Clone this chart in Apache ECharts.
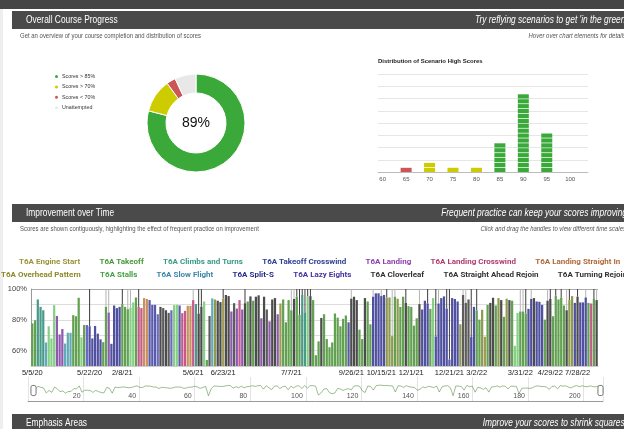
<!DOCTYPE html>
<html>
<head>
<meta charset="utf-8">
<script src="https://cdn.jsdelivr.net/npm/echarts@6/dist/echarts.min.js"></script>
<style>
  html, body { margin: 0; padding: 0; background: #fff; overflow: hidden; }
  #dash { width: 624px; height: 429px; }
</style>
</head>
<body>
<div id="dash"></div>
<script>
// section headers
const sectionTitles = ['Overall Course Progress', 'Improvement over Time', 'Emphasis Areas'];
const sectionTaglines = ["Try reflying scenarios to get 'in the green'", 'Frequent practice can keep your scores improving', 'Improve your scores to shrink squares!'];
const sectionNotes = ['Get an overview of your course completion and distribution of scores', 'Scores are shown contiguously, highlighting the effect of frequent practice on improvement'];
const sectionHints = ['Hover over chart elements for details', 'Click and drag the handles to view different time scales'];

// course progress donut
const progressNames = ['Scores > 85%', 'Scores > 70%', 'Scores < 70%', 'Unattempted'];
const progressShare = [79, 11, 3, 7];
const overallScore = 89;

// distribution of high scores
const histTitle = 'Distribution of Scenario High Scores';
const histScores = [60, 65, 70, 75, 80, 85, 90, 95, 100];
const histCounts = [0, 1, 2, 1, 1, 6, 16, 8, 0];

// improvement over time
const scenarioNames = [
    'T6A Engine Start', 'T6A Takeoff', 'T6A Climbs and Turns', 'T6A Takeoff Crosswind',
    'T6A Landing', 'T6A Landing Crosswind', 'T6A Landing Straight In',
    'T6A Overhead Pattern', 'T6A Stalls', 'T6A Slow Flight', 'T6A Split-S',
    'T6A Lazy Eights', 'T6A Cloverleaf', 'T6A Straight Ahead Rejoin', 'T6A Turning Rejoin'
];
const legendRow1 = 7; // first 7 names on the upper legend row

const scores = [
    77.7, 79.7, 93.2, 88.4, 86.2, 65.3, 75.8, 67.9, 89.5, 82.5,
    70.5, 74, 64.6, 71.6, 71.6, 83, 82.3, 94.3, 68.6, 76.6,
    76.6, 75.8, 67.9, 76, 71, 67.3, 65.5, 88.4, 84.7, 64.4,
    89.3, 87.6, 88.4, 90.2, 88.4, 86.9, 88, 91.3, 94.5, 88.4,
    87.6, 94.1, 93.5, 92.8, 89.7, 89.7, 83.6, 88.4, 87.6, 86.2,
    84.5, 86.2, 89.5, 89.7, 89.3, 84.3, 85.8, 89.1, 89.1, 92.8,
    90.2, 84.1, 88.6, 91.9, 53.9, 82.5, 93.9, 93.2, 92.4, 91.5,
    93.7, 96.1, 95.4, 85.4, 90.8, 87.3, 92.8, 86.7, 90.8, 91.9,
    95.2, 92.4, 95, 95.9, 81, 95, 86.7, 79, 93.2, 94.1,
    83.6, 90.6, 93.2, 78.4, 92.8, 86.2, 93.5, 95, 83.2, 96.1,
    84.9, 95.4, 95.4, 92.8, 57, 66, 81.2, 83.6, 67.5, 62.2,
    65.3, 84.1, 81.4, 75.8, 80.6, 82.8, 78.4, 93.7, 95, 92.8,
    73.6, 67.5, 94.1, 91.9, 77.1, 95, 97.2, 97.2, 95.4, 96.1,
    94.5, 94.5, 69.4, 95, 93.7, 88.4, 95, 91, 88.9, 88.4,
    76.2, 81, 90.2, 86.7, 92.4, 90.6, 87.1, 94.1, 69.2, 90.6,
    94.1, 95.2, 87.3, 54.2, 94.1, 93.5, 91.9, 77.1, 96.1, 91,
    93.2, 68.8, 88.4, 86.2, 80.1, 86.5, 69, 89.7, 91, 94.3,
    89.3, 94.1, 92.8, 81.9, 93.7, 92.8, 92.4, 63.1, 84.5, 85.4,
    85.4, 84.1, 87.1, 93.5, 94.1, 91.9, 91.7, 89.7, 80.1, 92.4,
    93.5, 82.3, 95.6, 93.2, 94.5, 89.3, 86.2, 92.8, 95.4, 91,
    95, 91.3, 91.3, 94.5, 91, 90.6, 93.5, 92.8
];
// index into scenarioNames for every attempt
const scenarioOf = [
    1, 1, 2, 2, 2, 9, 8, 8, 8, 4,
    4, 4, 9, 9, 9, 1, 1, 1, 8, 1,
    11, 10, 10, 10, 10, 10, 1, 1, 4, 10,
    10, 10, 10, 1, 1, 1, 8, 8, 1, 5,
    5, 6, 6, 3, 3, 3, 11, 12, 13, 12,
    13, 11, 8, 8, 3, 5, 5, 6, 6, 5,
    2, 12, 12, 8, 1, 13, 9, 7, 12, 12,
    0, 12, 12, 4, 13, 4, 5, 4, 12, 1,
    12, 1, 12, 12, 4, 12, 13, 4, 12, 12,
    4, 0, 1, 1, 1, 1, 12, 1, 1, 2,
    2, 8, 12, 1, 1, 1, 12, 1, 1, 1,
    1, 1, 1, 1, 1, 1, 3, 12, 12, 12,
    1, 1, 12, 1, 1, 10, 10, 10, 10, 10,
    7, 7, 7, 1, 7, 1, 1, 12, 1, 1,
    1, 1, 12, 10, 10, 10, 1, 8, 10, 10,
    10, 10, 10, 3, 10, 10, 10, 7, 13, 13,
    13, 10, 10, 1, 1, 7, 0, 1, 12, 12,
    1, 7, 12, 1, 7, 12, 1, 8, 8, 1,
    1, 1, 10, 10, 12, 10, 10, 10, 1, 12,
    12, 1, 1, 1, 1, 1, 12, 7, 7, 10,
    12, 10, 10, 10, 1, 5, 1, 12
];
// attempts that start a new session (dark) or a new day (light)
const sessionStarts = [21, 33, 39, 61, 62, 70, 78, 97, 98, 99, 100, 101, 102, 130, 137, 145, 148, 152, 153, 161, 163, 181, 190, 192, 194, 197, 200, 206];
const dayStarts = [27, 28, 35, 36, 59, 95, 96, 117, 125, 128, 132, 133, 142, 149, 158, 159, 179, 180, 183, 189, 196, 203, 207];
const dateLabels = [
    [0, '5/5/20'], [21, '5/22/20'], [33, '2/8/21'], [59, '5/6/21'], [70, '6/23/21'],
    [95, '7/7/21'], [117, '9/26/21'], [128, '10/15/21'], [139, '12/1/21'], [153, '12/21/21'],
    [163, '3/2/22'], [179, '3/31/22'], [190, '4/29/22'], [200, '7/28/22']
];

// ---- styles ----
const plain = "'Liberation Sans', Arial, sans-serif";
const squeeze = 0.83; // header captions use a condensed face
const textColors = ['#9a9438', '#4a983a', '#3a9a86', '#2e3f92', '#8e3fae', '#b03a6e', '#b06a3a',
    '#8a8a2a', '#44a044', '#3a86aa', '#2a2a8e', '#44349e', '#333', '#333', '#333'];
const barColors = ['#a09c58', '#62a052', '#4a9a8a', '#5a5aaa', '#8e5ab0', '#c45a8a', '#c89060',
    '#8e9a50', '#86d086', '#62aab8', '#5050a0', '#6a6ac4', '#4c4c4c', '#5c5c5c', '#6a6a6a'];
const progressColors = ['#3aa93a', '#cccc00', '#cc5656', '#e8e8e8'];

const chart = echarts.init(document.getElementById('dash'), null, { renderer: 'canvas' });

function caption(text, x, y, font, fill, align) {
    return {
        type: 'text', x: x, y: y, scaleX: squeeze, silent: true,
        style: { text: text, fill: fill, font: font, textAlign: align, align: align,
            textVerticalAlign: 'middle', verticalAlign: 'middle' }
    };
}

// header bars and captions
const headerTops = [11, 204, 414];
const graphics = [
    { type: 'rect', shape: { x: 0, y: 0, width: 624, height: 9 }, style: { fill: '#454545' }, silent: true },
    { type: 'rect', shape: { x: 0, y: 9, width: 3, height: 420 }, style: { fill: '#eeeeee' }, silent: true }
];
headerTops.forEach((top, i) => {
    graphics.push({ type: 'rect', shape: { x: 12, y: top, width: 612, height: 18 }, style: { fill: '#4a4a4a' }, silent: true });
    graphics.push(caption(sectionTitles[i], 26, top + 9, '10.1px ' + plain, '#fff', 'left'));
    graphics.push(caption(sectionTaglines[i], 627, top + 9, 'italic 10.1px ' + plain, '#fff', 'right'));
    if (sectionNotes[i]) {
        graphics.push(caption(sectionNotes[i], 20, top + 25, '7.2px ' + plain, '#555', 'left'));
        graphics.push(caption(sectionHints[i], 626, top + 25, 'italic 7.2px ' + plain, '#555', 'right'));
    }
});
graphics.push({ type: 'text', x: 196, y: 123, silent: true,
    style: { text: overallScore + '%', fill: '#111', font: '14px ' + plain, textAlign: 'center', align: 'center', textVerticalAlign: 'middle', verticalAlign: 'middle' } });
graphics.push({ type: 'text', x: 378, y: 61, silent: true,
    style: { text: histTitle, fill: '#222', font: 'bold 6px ' + plain, textVerticalAlign: 'middle', verticalAlign: 'middle' } });

const categories = scores.map(() => '');
dateLabels.forEach(([i, label]) => { categories[i] = label; });

const scenarioSeries = scenarioNames.map((name, s) => ({
    name: name,
    type: 'bar',
    stack: 'score',
    xAxisIndex: 0,
    yAxisIndex: 0,
    barCategoryGap: '18%',
    itemStyle: { color: barColors[s] },
    data: scores.map((v, i) => (scenarioOf[i] === s ? v : '-')),
    z: 4
}));

const markData = sessionStarts.map(i => [i, scores[i], 2]).concat(dayStarts.map(i => [i, scores[i], 1]));

const legendItems = scenarioNames.map((name, s) => ({ name: name, textStyle: { color: textColors[s] } }));
const rowLegend = {
    icon: 'none', itemWidth: 0, itemHeight: 10, itemGap: 14.3, padding: 0, width: 1200,
    selectedMode: false,
    textStyle: { fontSize: 8, fontWeight: 'bold', fontFamily: 'Roboto' }
};

const option = {
    animation: false,
    backgroundColor: '#fff',
    graphic: graphics,
    legend: [
        {
            data: progressNames, orient: 'vertical', left: 53, top: 73,
            icon: 'circle', itemWidth: 5, itemHeight: 5, itemGap: 3.4, padding: 0,
            selectedMode: false,
            textStyle: { fontSize: 5.3, color: '#333', fontFamily: plain, padding: [0, 0, 0, -2] }
        },
        Object.assign({ data: legendItems.slice(0, legendRow1), left: 14, top: 257 }, rowLegend),
        Object.assign({ data: legendItems.slice(legendRow1), left: -4, top: 270 }, rowLegend)
    ],
    grid: [
        { left: 31, right: 26, top: 289, bottom: 63, outerBoundsMode: 'none' },
        { left: 378, right: 36, top: 74, bottom: 257, outerBoundsMode: 'none' },
        { left: 28, right: 21, top: 377, bottom: 28, outerBoundsMode: 'none' }
    ],
    xAxis: [
        {
            type: 'category', gridIndex: 0, data: categories,
            axisLine: { lineStyle: { color: '#cccccc' } },
            axisTick: { show: false },
            axisLabel: { interval: 0, fontSize: 7.5, color: '#222', margin: 3, fontFamily: plain }
        },
        {
            type: 'value', gridIndex: 1, min: 59, max: 103.8,
            axisLine: { lineStyle: { color: '#bbbbbb' } },
            axisTick: { show: false },
            splitLine: { show: false },
            axisLabel: { customValues: histScores, fontSize: 6, color: '#555', margin: 4, fontFamily: plain }
        },
        {
            type: 'value', gridIndex: 2, min: 0, max: 207, interval: 20,
            axisLine: { lineStyle: { color: '#999' } },
            axisTick: { show: false },
            splitLine: { show: true, lineStyle: { color: '#e4e4e4' } },
            axisLabel: { inside: true, showMinLabel: false, showMaxLabel: false, align: 'right',
                padding: [0, 3, 0, 0], margin: 1, fontSize: 7, color: '#555', fontFamily: plain }
        }
    ],
    yAxis: [
        {
            type: 'value', gridIndex: 0, min: 50, max: 100, interval: 10,
            axisLine: { show: true, lineStyle: { color: '#999' } },
            axisTick: { show: false },
            splitLine: { lineStyle: { color: ['#dddddd', '#dddddd', '#dddddd', '#dddddd', '#dddddd', '#aaaaaa'] } },
            axisLabel: { fontSize: 7.5, color: '#444', margin: 4, fontFamily: plain,
                formatter: v => (v % 20 === 0 && v > 50 ? v + '%' : '') }
        },
        {
            type: 'value', gridIndex: 1, min: 0, max: 20, interval: 2.5,
            axisLine: { show: false }, axisTick: { show: false }, axisLabel: { show: false },
            splitLine: { lineStyle: { color: '#e6e6e6' } }
        },
        { type: 'value', gridIndex: 2, min: 0, max: 1, show: false }
    ],
    dataZoom: [{
        type: 'slider', xAxisIndex: 0, left: 30, right: 25, top: 382, height: 17,
        borderColor: 'transparent', backgroundColor: 'transparent',
        fillerColor: 'rgba(0,0,0,0)', showDetail: false, brushSelect: false,
        moveHandleSize: 0,
        handleIcon: 'path://M3,0 L5,0 Q8,0 8,3 L8,13 Q8,16 5,16 L3,16 Q0,16 0,13 L0,3 Q0,0 3,0 Z',
        handleSize: '60%',
        handleStyle: { color: '#fff', borderColor: '#777', borderWidth: 1 },
        dataBackground: { lineStyle: { color: '#4f8a3f', width: 0.7, opacity: 0.8 }, areaStyle: { opacity: 0 } },
        selectedDataBackground: { lineStyle: { color: '#4f8a3f', width: 0.7, opacity: 0.8 }, areaStyle: { opacity: 0 } }
    }],
    series: [
        // full score trace, only used as the range filter's overview
        {
            name: 'overview', type: 'line', xAxisIndex: 0, yAxisIndex: 0,
            data: scores, showSymbol: false, silent: true,
            lineStyle: { opacity: 0 }, z: 1
        }
    ].concat(scenarioSeries, [
        {
            name: 'sessions', type: 'custom', xAxisIndex: 0, yAxisIndex: 0,
            data: markData, silent: true, z: 3,
            renderItem: (params, api) => {
                const from = api.coord([api.value(0), api.value(1)]);
                const to = api.coord([api.value(0), 100]);
                return {
                    type: 'line',
                    shape: { x1: from[0], y1: from[1], x2: to[0], y2: to[1] },
                    style: { stroke: api.value(2) === 2 ? '#3c3c3c' : '#b4b4b4', lineWidth: 1 }
                };
            }
        },
        {
            name: 'progress', type: 'pie', center: [196, 123], radius: [30, 49],
            startAngle: 90, clockwise: true, silent: true,
            label: { show: false }, labelLine: { show: false },
            itemStyle: { borderColor: '#fff', borderWidth: 1 },
            data: progressNames.map((n, i) => ({ name: n, value: progressShare[i], itemStyle: { color: progressColors[i] } }))
        },
        {
            name: 'distribution', type: 'custom', xAxisIndex: 1, yAxisIndex: 1, silent: true,
            data: histScores.map((s, i) => [s, histCounts[i]]),
            renderItem: (params, api) => {
                const score = api.value(0);
                const count = api.value(1);
                const w = api.size([5, 0])[0] * 0.47;
                const fill = score < 70 ? '#cc5656' : score < 85 ? '#cccc00' : '#3aa93a';
                const children = [];
                for (let k = 0; k < count; k++) {
                    const top = api.coord([score, k + 1]);
                    const bottom = api.coord([score, k]);
                    children.push({
                        type: 'rect',
                        shape: { x: top[0] - w / 2, y: top[1] + 0.7, width: w, height: bottom[1] - top[1] - 0.7 },
                        style: { fill: fill }
                    });
                }
                return { type: 'group', children: children };
            }
        }
    ])
};

chart.setOption(option);
</script>
</body>
</html>
